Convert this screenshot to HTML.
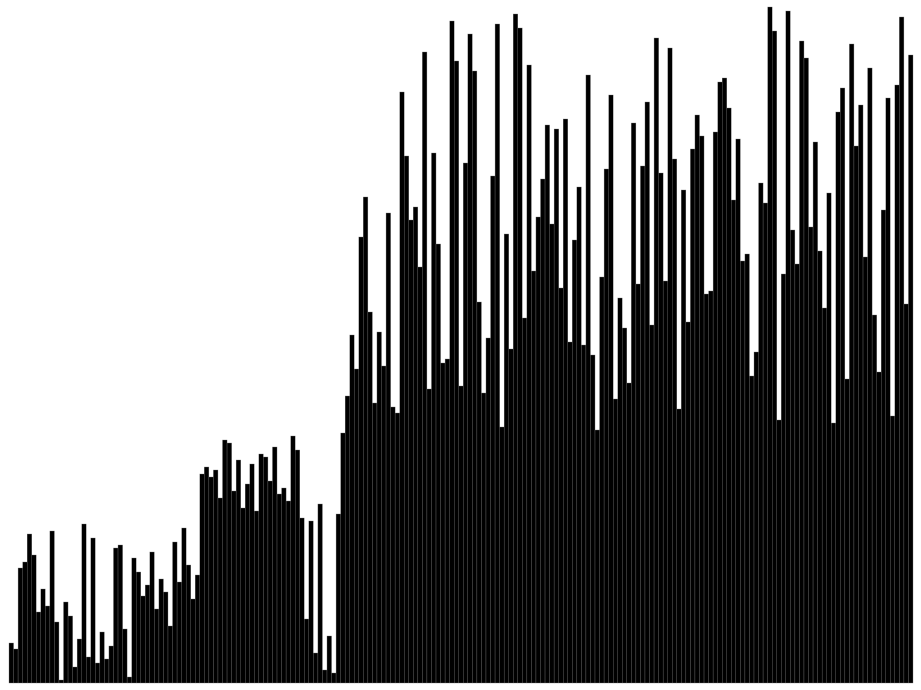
<!DOCTYPE html>
<html><head><meta charset="utf-8"><style>
html,body{margin:0;padding:0;background:#fff;}
svg{display:block;}
</style></head><body>
<svg id="chart" width="921" height="690" viewBox="0 0 921 690" xmlns="http://www.w3.org/2000/svg">
<g id="bars"></g>
</svg>
<script>
const tops = [643,649,568,562,534,555,612,589,606,531,622,680,602,616,667,639,524,657,538,663,632,659,646,548,545,629,677,558,572,596,585,552,609,579,592,626,542,582,528,565,599,575,474,467,477,470,498,440,443,491,460,508,484,464,511,454,457,481,447,494,488,501,436,450,518,619,521,653,504,670,636,673,514,
433,396,335,369,237,197,312,403,332,366,213,407,413,92,156,220,207,267,52,389,153,244,363,359,21,61,386,163,34,71,302,393,338,176,24,427,234,349,14,28,318,65,271,217,179,125,224,129,288,119,342,240,187,345,75,355,430,277,169,95,399,298,328,383,123,
284,166,102,325,38,173,281,48,159,409,190,322,149,115,136,294,291,132,82,78,108,200,139,261,254,376,352,183,203,7,31,420,274,11,230,264,41,58,227,142,251,308,193,423,112,88,379,44,146,105,257,68,315,372,210,98,416,85,17,304,55];
const values = tops.map(t => 683 - t);
const x0 = 9, x1 = 913, baseY = 683;
const n = values.length;
const step = (x1 - x0) / n;
function xScale(i){ return x0 + i * step; }
function yScale(v){ return baseY - v; }
const g = document.getElementById('bars');
const NS = 'http://www.w3.org/2000/svg';
values.forEach((v, i) => {
  const r = document.createElementNS(NS, 'rect');
  r.setAttribute('x', xScale(i));
  r.setAttribute('y', yScale(v));
  r.setAttribute('width', step);
  r.setAttribute('height', baseY - yScale(v));
  r.setAttribute('fill', '#000');
  r.setAttribute('stroke', '#777');
  r.setAttribute('stroke-width', '0.35');
  
  
  g.appendChild(r);
});
</script>
</body></html>
